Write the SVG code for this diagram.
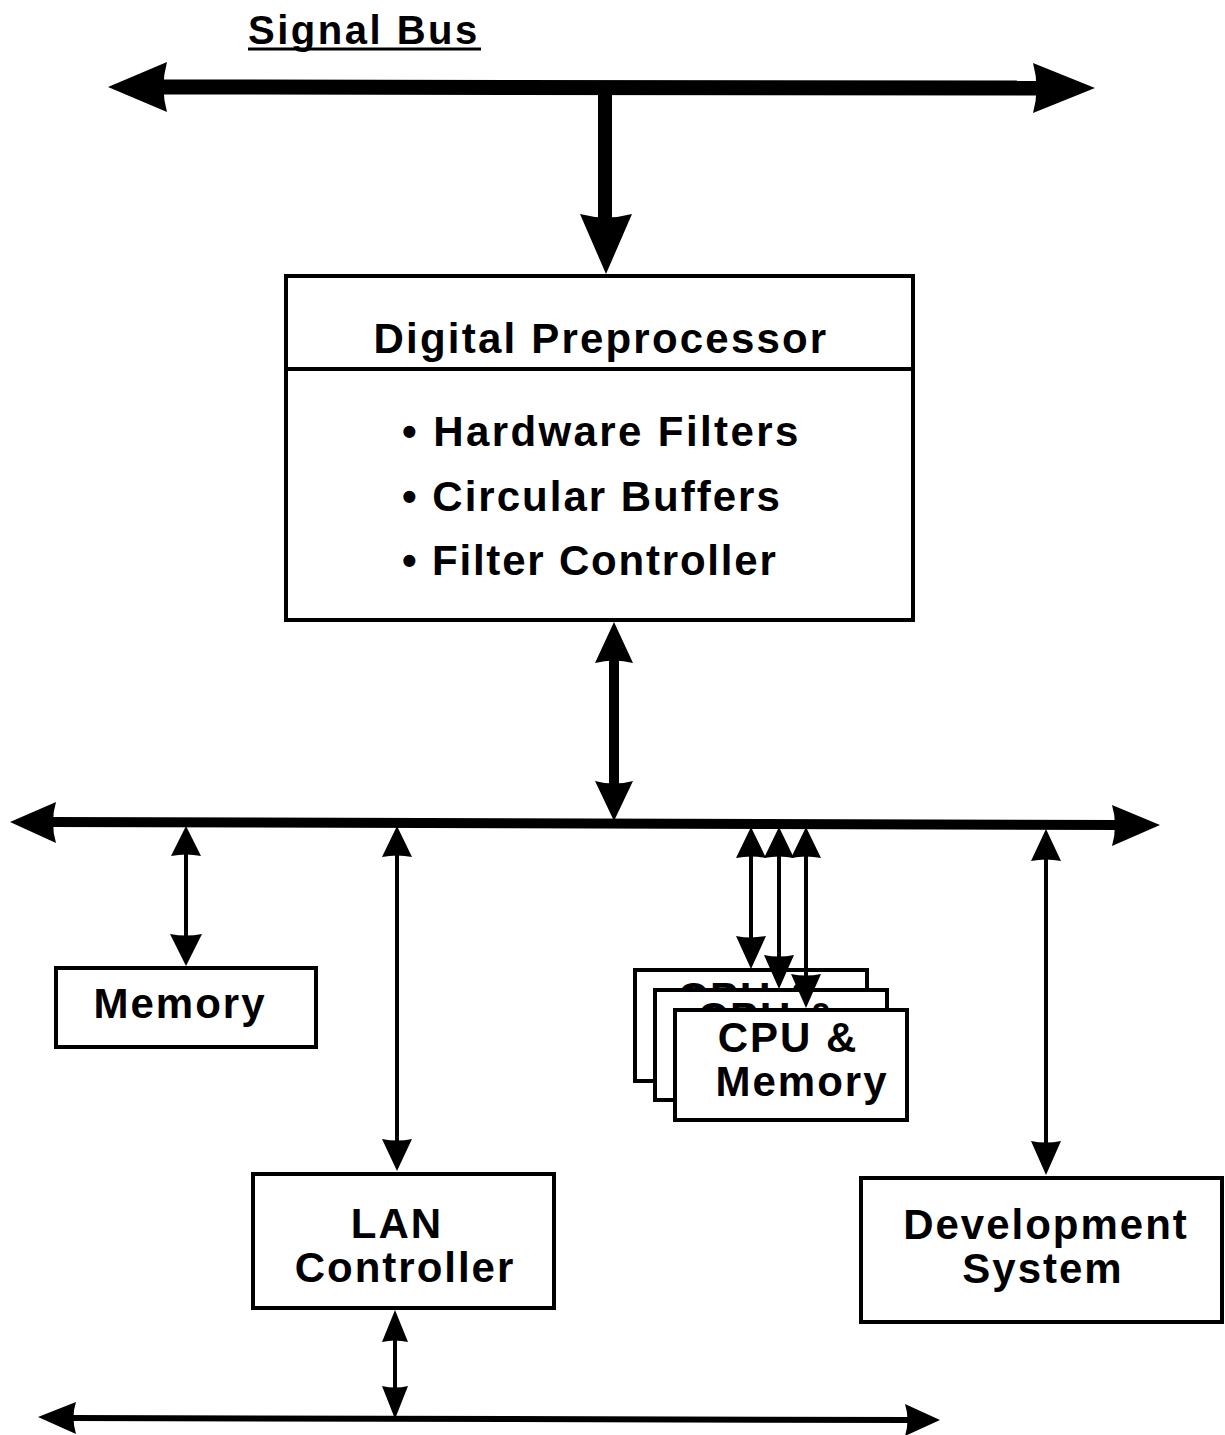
<svg xmlns="http://www.w3.org/2000/svg" width="1225" height="1435" viewBox="0 0 1225 1435">
  <style>
    .box { fill: #fff; stroke: #000; stroke-width: 4; }
    .lbl { font-family: "Liberation Sans", Arial, Helvetica, sans-serif; font-weight: bold; font-size: 42px; letter-spacing: 2px; fill: #000; }
    .mid { text-anchor: middle; }
    .head { fill: #000; stroke: none; }
    .bus { stroke: #000; fill: none; }
  </style>
  <rect width="1225" height="1435" fill="#fff"/>

  <!-- bus title -->
  <g id="signal-bus-title">
    <text class="lbl" x="248" y="44" style="font-size:40px;letter-spacing:2.5px">Signal Bus</text>
    <line x1="248" y1="49" x2="481" y2="49" stroke="#000" stroke-width="3"/>
  </g>

  <g id="connectors">
    <!-- signal bus -->
    <line class="bus" x1="160" y1="87" x2="1040" y2="88" stroke-width="15"/>
    <path class="head" d="M108,87 L167,62 Q160,87 167,112 Z"/>
    <path class="head" d="M1095,88 L1033,63 Q1040,88 1033,113 Z"/>
    <!-- signal bus to preprocessor -->
    <line class="bus" x1="605" y1="88" x2="605" y2="222" stroke-width="14"/>
    <path class="head" d="M606,274 L580,214 Q606,221 632,214 Z"/>

    <!-- preprocessor to system bus -->
    <line class="bus" x1="614" y1="650" x2="614" y2="795" stroke-width="10"/>
    <path class="head" d="M614,622 L595,663 Q614,658 633,663 Z"/>
    <path class="head" d="M614,821 L595,781 Q614,786 633,781 Z"/>

    <!-- system bus -->
    <line class="bus" x1="50" y1="822" x2="1120" y2="825" stroke-width="10"/>
    <path class="head" d="M10,822 L56,802 Q50,822 56,843 Z"/>
    <path class="head" d="M1160,825 L1112,805 Q1118,825 1112,846 Z"/>

    <!-- memory link -->
    <line class="bus" x1="186" y1="850" x2="186" y2="940" stroke-width="4"/>
    <path class="head" d="M186,826 L171,856 Q186,853 201,856 Z"/>
    <path class="head" d="M186,966 L170,934 Q186,937 202,934 Z"/>

    <!-- LAN controller link -->
    <line class="bus" x1="397" y1="850" x2="397" y2="1145" stroke-width="4"/>
    <path class="head" d="M397,826 L382,857 Q397,854 412,857 Z"/>
    <path class="head" d="M397,1171 L382,1139 Q397,1142 412,1139 Z"/>

    <!-- CPU links (upper parts; lower heads drawn over the cards below) -->
    <line class="bus" x1="751" y1="850" x2="751" y2="940" stroke-width="4"/>
    <path class="head" d="M751,827 L736,858 Q751,855 766,858 Z"/>
    <path class="head" d="M751,969 L736,936 Q751,939 766,936 Z"/>
    <line class="bus" x1="779" y1="850" x2="779" y2="960" stroke-width="4"/>
    <path class="head" d="M779,827 L764,858 Q779,855 794,858 Z"/>
    <line class="bus" x1="806" y1="850" x2="806" y2="968" stroke-width="4"/>
    <path class="head" d="M806,827 L791,858 Q806,855 821,858 Z"/>

    <!-- development system link -->
    <line class="bus" x1="1046" y1="855" x2="1046" y2="1145" stroke-width="4"/>
    <path class="head" d="M1046,829 L1031,861 Q1046,858 1061,861 Z"/>
    <path class="head" d="M1046,1175 L1031,1141 Q1046,1144 1061,1141 Z"/>

    <!-- LAN link -->
    <line class="bus" x1="395" y1="1330" x2="395" y2="1400" stroke-width="4"/>
    <path class="head" d="M395,1310 L382,1342 Q395,1339 408,1342 Z"/>
    <path class="head" d="M395,1419 L382,1386 Q395,1389 408,1386 Z"/>

    <!-- LAN bus -->
    <line class="bus" x1="70" y1="1418" x2="910" y2="1420" stroke-width="6"/>
    <path class="head" d="M38,1417 L76,1402 Q71,1417 76,1434 Z"/>
    <path class="head" d="M940,1420 L905,1404 Q910,1420 905,1436 Z"/>
  </g>

  <g id="digital-preprocessor">
    <rect class="box" x="286" y="276" width="627" height="344"/>
    <line x1="286" y1="369" x2="913" y2="369" stroke="#000" stroke-width="4"/>
    <text class="lbl mid" x="601" y="353" style="letter-spacing:2.2px">Digital Preprocessor</text>
    <text class="lbl" x="402" y="446" style="letter-spacing:2.4px">• Hardware Filters</text>
    <text class="lbl" x="402" y="511">• Circular Buffers</text>
    <text class="lbl" x="402" y="575" style="letter-spacing:1.8px">• Filter Controller</text>
  </g>

  <g id="memory">
    <rect class="box" x="56" y="968" width="260" height="79"/>
    <text class="lbl mid" x="180" y="1018">Memory</text>
  </g>

  <g id="cpu-1">
    <rect class="box" x="635" y="970" width="232" height="111"/>
    <text class="lbl mid" x="748" y="1012">CPU  &amp;</text>
  </g>
  <g id="cpu-2">
    <rect class="box" x="655" y="990" width="232" height="110"/>
    <text class="lbl mid" x="768" y="1032">CPU  &amp;</text>
  </g>
  <g id="cpu-links-lower">
    <line class="bus" x1="806" y1="965" x2="806" y2="985" stroke-width="4"/>
    <path class="head" d="M779,989 L764,955 Q779,958 794,955 Z"/>
    <path class="head" d="M806,1008 L791,974 Q806,977 821,974 Z"/>
  </g>
  <g id="cpu-3">
    <rect class="box" x="675" y="1010" width="232" height="110"/>
    <text class="lbl mid" x="788" y="1052">CPU  &amp;</text>
    <text class="lbl mid" x="802" y="1096">Memory</text>
  </g>

  <g id="lan-controller">
    <rect class="box" x="253" y="1174" width="301" height="134"/>
    <text class="lbl mid" x="397" y="1238">LAN</text>
    <text class="lbl mid" x="405" y="1282">Controller</text>
  </g>

  <g id="development-system">
    <rect class="box" x="861" y="1178" width="361" height="144"/>
    <text class="lbl mid" x="1046" y="1239">Development</text>
    <text class="lbl mid" x="1043" y="1283">System</text>
  </g>
</svg>
